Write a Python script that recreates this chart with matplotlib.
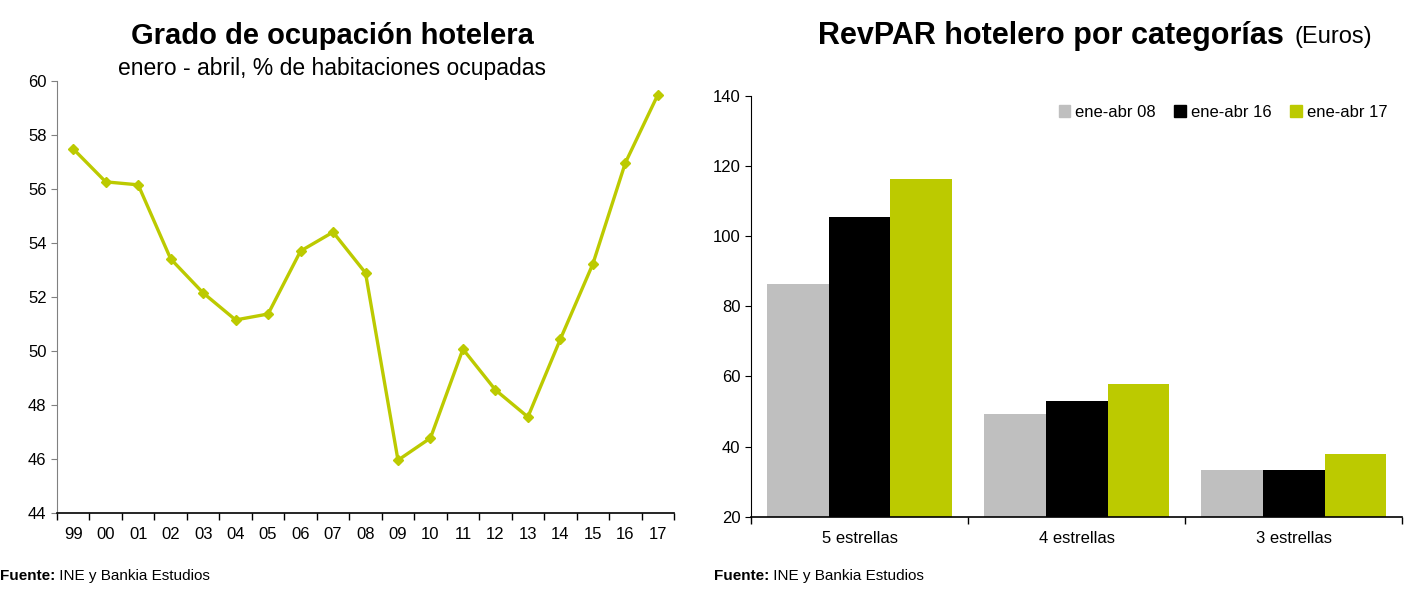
import numpy as np
import matplotlib
matplotlib.use('Agg')
import matplotlib.pyplot as plt
from matplotlib.patches import Patch

plt.rcParams['font.family'] = ['Liberation Sans', 'DejaVu Sans']

# datos
years = ['99', '00', '01', '02', '03', '04', '05', '06', '07', '08',
         '09', '10', '11', '12', '13', '14', '15', '16', '17']
ocupacion = [57.48, 56.26, 56.15, 53.41, 52.15, 51.15, 51.37, 53.7, 54.4, 52.89,
             45.96, 46.78, 50.07, 48.56, 47.56, 50.44, 53.22, 56.96, 59.48]

categorias = ['5 estrellas', '4 estrellas', '3 estrellas']
series = ['ene-abr 08', 'ene-abr 16', 'ene-abr 17']
revpar_08 = [86.4, 49.3, 33.4]
revpar_16 = [105.4, 53.0, 33.4]
revpar_17 = [116.2, 57.8, 37.8]

verde = '#BCCA00'
gris = '#BFBFBF'
colores = [gris, 'black', verde]

fig = plt.figure(figsize=(14.25, 6.03), dpi=100)

# grafico izquierdo
ax1 = fig.add_axes([0.040, 0.149, 0.433, 0.717])
x = np.arange(len(years))
ax1.plot(x, ocupacion, color=verde, lw=2.4, marker='D', ms=5.5)
ax1.set_xlim(-0.5, len(years) - 0.5)
ax1.set_ylim(44, 60)
ax1.set_yticks(np.arange(44, 61, 2))
ax1.set_xticks(x)
ax1.set_xticklabels(years)
ax1.set_xticks(np.arange(-0.5, len(years), 1), minor=True)
ax1.tick_params(axis='x', which='major', length=0, pad=10, labelsize=12)
ax1.tick_params(axis='x', which='minor', length=5, width=1)
ax1.tick_params(axis='y', length=4, color='#808080', labelsize=12)
ax1.spines['top'].set_visible(False)
ax1.spines['right'].set_visible(False)
ax1.spines['left'].set_color('#808080')
ax1.spines['bottom'].set_linewidth(1.2)

fig.text(0.233, 0.940, 'Grado de ocupación hotelera', ha='center', va='center',
         fontsize=21, fontweight='bold')
fig.text(0.233, 0.887, 'enero - abril, % de habitaciones ocupadas', ha='center', va='center',
         fontsize=16.5)

# grafico derecho
ax2 = fig.add_axes([0.527, 0.143, 0.457, 0.698])
xc = np.arange(len(categorias))
w = 0.285
for i, (vals, c) in enumerate(zip([revpar_08, revpar_16, revpar_17], colores)):
    ax2.bar(xc + (i - 1) * w, np.array(vals) - 20, bottom=20, width=w, color=c, label=series[i])
ax2.set_xlim(-0.5, len(categorias) - 0.5)
ax2.set_ylim(20, 140)
ax2.set_yticks(np.arange(20, 141, 20))
ax2.set_xticks(xc)
ax2.set_xticklabels(categorias)
ax2.set_xticks(np.arange(-0.5, len(categorias), 1), minor=True)
ax2.tick_params(axis='x', which='major', length=0, pad=10, labelsize=12)
ax2.tick_params(axis='x', which='minor', length=5, width=1)
ax2.tick_params(axis='y', length=4, labelsize=12)
ax2.spines['top'].set_visible(False)
ax2.spines['right'].set_visible(False)
ax2.spines['bottom'].set_linewidth(1.2)

handles = [Patch(color=c) for c in colores]
ax2.legend(handles, series, loc='upper right', ncol=3, frameon=False, fontsize=12,
           handlelength=0.7, handleheight=0.7, handletextpad=0.3, columnspacing=1.1,
           bbox_to_anchor=(1.0, 1.015))

t = fig.text(0.7375, 0.940, 'RevPAR hotelero por categorías', ha='center', va='center',
             fontsize=22, fontweight='bold')
plt.annotate('(Euros)', xy=(1.0, 0.0), xycoords=t, xytext=(8, 2),
             textcoords='offset points', ha='left', va='bottom', fontsize=17)

# fuentes
for xf in (0.0, 0.501):
    f = fig.text(xf, 0.045, 'Fuente:', ha='left', va='center', fontsize=11, fontweight='bold')
    plt.annotate(' INE y Bankia Estudios', xy=(1.0, 0.5), xycoords=f, ha='left', va='center',
                 fontsize=11)

fig.savefig('out.png', dpi=100)
